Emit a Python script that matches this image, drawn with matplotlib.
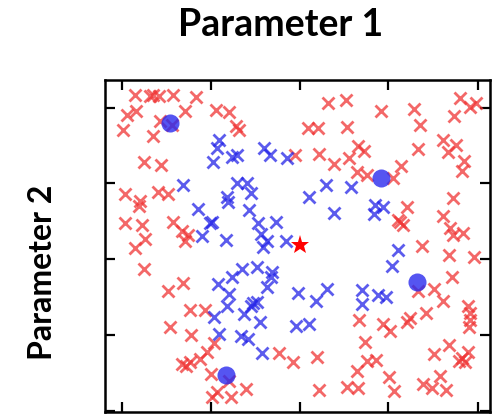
import matplotlib
matplotlib.use("Agg")
import matplotlib.pyplot as plt

# Data (arbitrary parameter units)
red_x = [35, 50, 53, 59, 73, 96, 27, 36, 23, 53, 60, 72, 85, 44, 61, 25, 40, 39, 58, 68,
         25, 42, 73, 82, 88, 45, 35, 85, 44, 68, 83, 90, 70, 91, 82, 86, 90, 100, 105,
         114, 107, 111, 129, 117, 112, 131, 146, 179, 193,
         116, 129, 136, 139, 195, 228, 246, 281, 208, 218, 247, 219, 234, 249, 258, 264,
         257, 267, 293, 360, 370, 376, 314, 320, 354, 343, 356, 348, 318, 364, 362, 301,
         353, 307, 343, 298, 303, 300, 350, 353, 363, 322,
         259, 265, 283, 290, 217, 267, 276, 257, 289, 219, 247, 258, 294,
         349, 374, 352, 318, 334, 343, 368, 370, 370, 369, 326, 310, 307,
         334, 349, 359, 362, 368, 365, 340, 323, 332, 346]
red_y = [325, 324, 325, 324, 325, 323, 305, 309, 290, 284, 299, 295, 309, 258, 255, 226, 219, 214, 228, 226,
         197, 195, 198, 189, 185, 181, 172, 179, 151, 129, 137, 110, 93, 85, 56, 54, 58, 61, 110,
         77, 68, 46, 39, 28, 23, 23, 31, 67, 58,
         310, 308, 294, 290, 265, 317, 320, 309, 292, 292, 293, 266, 256, 262, 274, 269,
         248, 245, 242, 322, 313, 317, 311, 295, 304, 280, 275, 268, 271, 259, 249, 254,
         222, 213, 204, 200, 195, 198, 192, 185, 187, 174,
         100, 78, 96, 89, 63, 59, 60, 49, 43, 30, 33, 32, 29,
         165, 163, 143, 129, 131, 119, 114, 107, 100, 93, 107, 102, 98,
         66, 75, 59, 62, 68, 58, 44, 36, 32, 30]

blue_x = [83, 98, 102, 119.5, 117, 113.5, 132, 137.5, 164, 170.5, 187.5, 137, 147, 151, 127,
          128.5, 149, 110.5, 112, 158, 176, 161, 126, 167, 186.5, 163, 142, 132, 157, 172,
          171, 118, 129, 167, 127, 151, 153, 157, 144, 114, 160, 119, 141, 148, 162, 196,
          198, 216, 227, 209, 262, 262, 278, 286, 292, 298, 226, 251, 209, 234, 275, 283, 274]
blue_y = [235, 211.5, 184.5, 280, 272, 258, 263.5, 265, 272, 265, 262, 237.5, 237, 227, 223.5,
          218.5, 210, 197, 198, 197.5, 198, 186, 180, 179, 179, 173, 151, 143, 153, 148,
          143, 136, 126, 133, 114, 114, 117, 118, 106, 103, 98, 86, 84, 81, 67, 94,
          127.5, 119, 131, 96, 130, 116, 125, 123, 154, 170, 235, 233, 223, 207, 215, 213, 206]

center_x = [70, 281, 317, 126]
center_y = [297, 242.5, 138.5, 45]

best_x = [200]
best_y = [175]

x_ticks = [22, 111, 200, 288, 378]
y_ticks = [9, 85, 161, 237, 312]

fig = plt.figure(figsize=(4.95, 4.17), dpi=100)
ax = fig.add_axes([0.212, 0.012, 0.778, 0.796])

ax.plot(red_x, red_y, linestyle="none", marker="x", color="#f03535", alpha=0.75,
        markersize=8.4, markeredgewidth=2.0)
ax.plot(blue_x, blue_y, linestyle="none", marker="x", color="#2525e8", alpha=0.75,
        markersize=8.4, markeredgewidth=2.0)
ax.plot(center_x, center_y, linestyle="none", marker="o", color="#2a2aee", alpha=0.8,
        markersize=13, markeredgewidth=0)
ax.plot(best_x, best_y, linestyle="none", marker="*", color="#ff0000",
        markersize=14, markeredgewidth=0)

ax.set_xlim(5, 390)
ax.set_ylim(8, 340)
ax.set_xticks(x_ticks)
ax.set_yticks(y_ticks)
ax.tick_params(direction="in", length=7, width=1.6, top=True, right=True,
               labelbottom=False, labelleft=False)
for s in ax.spines.values():
    s.set_linewidth(1.8)

fig.text(0.566, 0.94, "Parameter 1", ha="center", va="center",
         fontsize=27, fontweight="bold", family=["Lato", "DejaVu Sans"])
fig.text(0.085, 0.348, "Parameter 2", ha="center", va="center", rotation=90,
         fontsize=23, fontweight="bold", family=["Lato", "DejaVu Sans"])

fig.savefig("out.png", dpi=100)
